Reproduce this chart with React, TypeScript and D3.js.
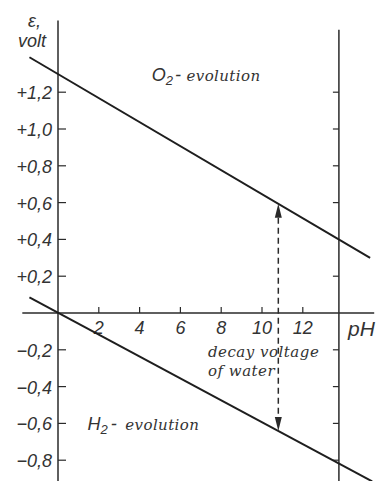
import React from "react";
import * as d3 from "d3";

const width = 379;
const height = 481;

// pH ticks on the horizontal axis
const phTicks = [2, 4, 6, 8, 10, 12];
// potential ticks (volt)
const voltTicks = [1.2, 1.0, 0.8, 0.6, 0.4, 0.2, -0.2, -0.4, -0.6, -0.8];
const voltLabels = ["+1,2", "+1,0", "+0,8", "+0,6", "+0,4", "+0,2", "\u22120,2", "\u22120,4", "\u22120,6", "\u22120,8"];
const rightTicks = [1.2, 1.0, 0.8, 0.6, 0.2, -0.2, -0.4, -0.6, -0.8];

// equilibrium lines
const o2Line = [
  { ph: -1.4, e: 1.39 },
  { ph: 15.3, e: 0.3 }
];
const h2Line = [
  { ph: -1.4, e: 0.085 },
  { ph: 15.4, e: -0.915 }
];

const decayPH = 10.8;
const rightEdgePH = 13.77;
const axisRange = { phMin: -1.75, phMax: 15.5, eTop: 1.59, eRightTop: 1.54 };

const sans = "'Liberation Sans', Arial, sans-serif";
const serif = "'DejaVu Serif', serif";
const ink = "#2a2a2a";
const textInk = "#333";

const x = d3.scaleLinear().domain([0, 12]).range([58, 58 + 12 * 20.4]);
const y = d3.scaleLinear().domain([0, 1.2]).range([313, 313 - 1.2 * 184]);

const line = d3
  .line<{ ph: number; e: number }>()
  .x((d) => x(d.ph))
  .y((d) => y(d.e));

const at = (pts: { ph: number; e: number }[], ph: number) =>
  d3.scaleLinear().domain([pts[0].ph, pts[1].ph]).range([pts[0].e, pts[1].e])(ph);

export default function App() {
  const x0 = x(0);
  const y0 = y(0);
  const xr = x(rightEdgePH);
  const xd = x(decayPH);
  const yTop = y(at(o2Line, decayPH));
  const yBot = y(at(h2Line, decayPH));
  const head = 14;

  return (
    <svg
      width={width}
      height={height}
      style={{ position: "absolute", left: 0, top: 0, background: "#fff" }}
    >
      {/* left axis */}
      <line x1={x0} x2={x0} y1={y(axisRange.eTop)} y2={height} stroke={ink} strokeWidth={1.5} />
      {voltTicks.map((v, i) => (
        <g key={v}>
          <line x1={x0} x2={x0 + 8} y1={y(v)} y2={y(v)} stroke={ink} strokeWidth={1.2} />
          <text
            x={52}
            y={y(v) + 7}
            textAnchor="end"
            fontFamily={sans}
            fontStyle="italic"
            fontSize={18}
            fill={textInk}
          >
            {voltLabels[i]}
          </text>
        </g>
      ))}

      {/* right boundary */}
      <line x1={xr} x2={xr} y1={y(axisRange.eRightTop)} y2={height} stroke={ink} strokeWidth={1.5} />
      {rightTicks.map((v) => (
        <line key={v} x1={xr - 6} x2={xr} y1={y(v)} y2={y(v)} stroke={ink} strokeWidth={1.2} />
      ))}

      {/* pH axis */}
      <line x1={x(axisRange.phMin)} x2={x(axisRange.phMax)} y1={y0} y2={y0} stroke={ink} strokeWidth={1.5} />
      {phTicks.map((p) => (
        <g key={p}>
          <line x1={x(p)} x2={x(p)} y1={y0} y2={y0 - 6} stroke={ink} strokeWidth={1.2} />
          <text
            x={x(p)}
            y={y0 + 21}
            textAnchor="middle"
            fontFamily={sans}
            fontStyle="italic"
            fontSize={18}
            fill={textInk}
          >
            {p}
          </text>
        </g>
      ))}
      <text x={348} y={y0 + 23} fontFamily={sans} fontStyle="italic" fontSize={21} fill={textInk}>
        pH
      </text>

      {/* axis title */}
      <text x={28} y={27} fontFamily={sans} fontStyle="italic" fontSize={18} fill={textInk}>
        ε,
      </text>
      <text x={18} y={47} fontFamily={sans} fontStyle="italic" fontSize={18} fill={textInk}>
        volt
      </text>

      {/* equilibrium lines */}
      <path d={line(o2Line) ?? ""} fill="none" stroke="#1e1e1e" strokeWidth={2} />
      <path d={line(h2Line) ?? ""} fill="none" stroke="#1e1e1e" strokeWidth={2} />

      {/* decay voltage arrow */}
      <line
        x1={xd}
        x2={xd}
        y1={yTop + head}
        y2={yBot - head}
        stroke={ink}
        strokeWidth={1.5}
        strokeDasharray="6,4"
      />
      <path d={`M${xd},${yTop} L${xd - 3.5},${yTop + head} L${xd + 3.5},${yTop + head} Z`} fill={ink} />
      <path d={`M${xd},${yBot} L${xd - 3.5},${yBot - head} L${xd + 3.5},${yBot - head} Z`} fill={ink} />

      {/* labels */}
      <text x={x(4.6)} y={y(1.26)} fontFamily={sans} fontStyle="italic" fontSize={18} fill={textInk}>
        O<tspan fontSize={13} dy={4}>2</tspan>
        <tspan dy={-4} dx={2}>-</tspan>
      </text>
      <text x={x(6.3)} y={y(1.26)} fontFamily={serif} fontStyle="italic" fontSize={15} fill={textInk} letterSpacing={0.4}>
        evolution
      </text>

      <text x={x(1.45)} y={y(-0.637)} fontFamily={sans} fontStyle="italic" fontSize={18} fill={textInk}>
        H<tspan fontSize={13} dy={4}>2</tspan>
        <tspan dy={-4} dx={3}>-</tspan>
      </text>
      <text x={x(3.3)} y={y(-0.637)} fontFamily={serif} fontStyle="italic" fontSize={15} fill={textInk} letterSpacing={0.4}>
        evolution
      </text>

      <text x={x(7.35)} y={y(-0.24)} fontFamily={serif} fontStyle="italic" fontSize={15} fill={textInk} letterSpacing={0.5}>
        decay voltage
      </text>
      <text x={x(7.35)} y={y(-0.345)} fontFamily={serif} fontStyle="italic" fontSize={15} fill={textInk} letterSpacing={0.5}>
        of water
      </text>
    </svg>
  );
}
